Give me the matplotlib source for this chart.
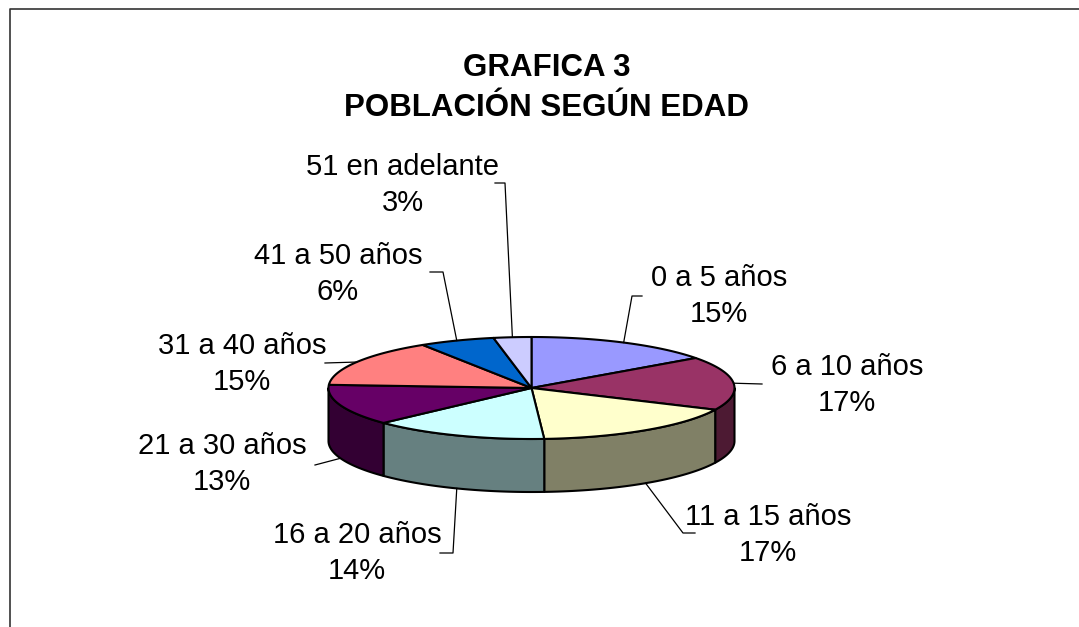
import numpy as np
import matplotlib.pyplot as plt
from matplotlib.patches import Polygon

plt.rcParams['font.family'] = ['Liberation Sans', 'DejaVu Sans']

# Data
categories = ["0 a 5 años", "6 a 10 años", "11 a 15 años", "16 a 20 años",
              "21 a 30 años", "31 a 40 años", "41 a 50 años", "51 en adelante"]
values = [15, 17, 17, 14, 13, 15, 6, 3]
colors = ["#9999FF", "#993366", "#FFFFCC", "#CCFFFF",
          "#660066", "#FF8080", "#0066CC", "#CCCCFF"]

# Layout (pixel coordinates, y pointing down)
W, H = 1079, 627
cx, cy = 531.5, 388.0   # centre of the top face
a, b = 203.0, 51.0      # ellipse radii
depth = 53.0            # thickness of the pie
label_pos = [(719, 296), (847, 385), (768, 535), (357, 553),
             (222, 464), (242, 364), (338, 274), (403, 185)]
leader_ends = [[(642, 296), (632, 296)], [(762, 384)],
               [(695, 533), (683, 533)], [(440, 553), (453, 553)],
               [(315, 465)], [(325, 363)],
               [(430, 272), (443, 272)], [(495, 183), (505, 183)]]

fig = plt.figure(figsize=(W / 100, H / 100), dpi=100)
ax = fig.add_axes([0, 0, 1, 1])
ax.set_xlim(0, W)
ax.set_ylim(H, 0)
ax.axis("off")

# outer frame (only top and left visible)
ax.plot([10, 10, W + 5], [H + 5, 9, 9], color="#333333", lw=1.2, clip_on=False)


def ell(t, dy=0.0):
    return cx + a * np.cos(t), cy + b * np.sin(t) + dy


def darker(c, f=0.5):
    rgb = np.array([int(c[i:i + 2], 16) for i in (1, 3, 5)]) / 255.0
    return tuple(rgb * f)


fr = np.array(values) / sum(values)
cum = np.concatenate([[0], np.cumsum(fr)])
t0s = np.deg2rad(-90 + 360 * cum[:-1])
t1s = np.deg2rad(-90 + 360 * cum[1:])

# side walls (front half only, sin(t) > 0)
for t0, t1, c in zip(t0s, t1s, colors):
    for k in range(-1, 2):
        lo = max(t0, 2 * np.pi * k)
        hi = min(t1, 2 * np.pi * k + np.pi)
        if hi <= lo:
            continue
        ts = np.linspace(lo, hi, 80)
        xt, yt = ell(ts)
        xb, yb = ell(ts[::-1], depth)
        pts = np.column_stack([np.concatenate([xt, xb]), np.concatenate([yt, yb])])
        ax.add_patch(Polygon(pts, closed=True, facecolor=darker(c),
                             edgecolor="black", lw=1.5, joinstyle="round"))

# top faces
for t0, t1, c in zip(t0s, t1s, colors):
    ts = np.linspace(t0, t1, 120)
    xt, yt = ell(ts)
    pts = np.column_stack([np.concatenate([[cx], xt]), np.concatenate([[cy], yt])])
    ax.add_patch(Polygon(pts, closed=True, facecolor=c, edgecolor="black",
                         lw=1.5, joinstyle="round"))

# labels and leader lines
for i, (cat, v) in enumerate(zip(categories, values)):
    tm = (t0s[i] + t1s[i]) / 2
    dy = depth if np.sin(tm) > 0 else 0.0
    ax_, ay_ = ell(tm, dy)
    pts = leader_ends[i] + [(ax_, ay_)]
    ax.plot([p[0] for p in pts], [p[1] for p in pts], color="black", lw=0.9)
    lx, ly = label_pos[i]
    ax.text(lx, ly, f"{cat}\n{v}%", ha="center", va="center",
            fontsize=21, linespacing=1.38, color="black")

ax.text(547, 88, "GRAFICA 3\nPOBLACIÓN SEGÚN EDAD", ha="center", va="center",
        fontsize=22.5, fontweight="bold", linespacing=1.4)

fig.savefig("out.png", dpi=100)
